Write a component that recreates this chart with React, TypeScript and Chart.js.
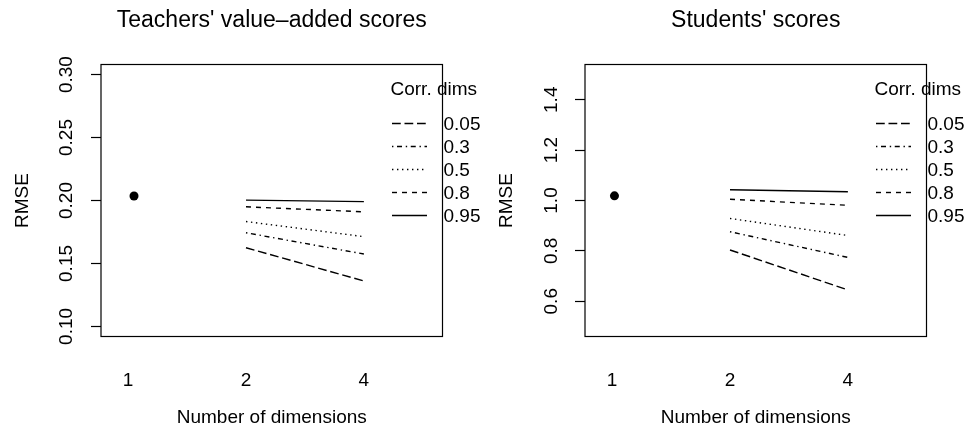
import React, { useEffect, useRef } from "react";
import { Chart, registerables } from "chart.js";

Chart.register(...registerables);

// Number of dimensions on the x axis (plotted at evenly spaced positions)
const dimensionLabels = ["1", "2", "4"];
const dimensionPositions = [1, 2, 3];

// Correlation between dimensions (one line per value)
const corrDims = ["0.05", "0.3", "0.5", "0.8", "0.95"];

// Teachers' value-added scores: RMSE
const teacherOneDimX = 1.05;
const teacherOneDim = 0.2036;
const teacherTwoDims = [0.1625, 0.1744, 0.1833, 0.195, 0.2003];
const teacherFourDims = [0.1361, 0.1575, 0.1713, 0.191, 0.1991];
const teacherYLim = [0.1, 0.3];
const teacherTicks = [0.1, 0.15, 0.2, 0.25, 0.3];
const teacherTickLabels = ["0.10", "0.15", "0.20", "0.25", "0.30"];

// Students' scores: RMSE
const studentOneDimX = 1.02;
const studentOneDim = 1.0186;
const studentTwoDims = [0.8036, 0.876, 0.9287, 1.0048, 1.0424];
const studentFourDims = [0.645, 0.774, 0.861, 0.981, 1.0345];
const studentYLim = [0.5, 1.5];
const studentTicks = [0.6, 0.8, 1.0, 1.2, 1.4];
const studentTickLabels = ["0.6", "0.8", "1.0", "1.2", "1.4"];

// R-style line types: longdash, dotdash, dotted, dashed, solid
const lineDashes: number[][] = [
  [8.75, 3.75],
  [1.4, 3.6, 5, 3.75],
  [1.4, 3.6],
  [5, 5],
  [],
];

const FONT = "'Liberation Sans', Arial, Helvetica, sans-serif";
const W = 484;
const H = 429;
const LINE_W = 1.4;

type Panel = {
  title: string;
  oneX: number;
  one: number;
  two: number[];
  four: number[];
  yLim: number[];
  ticks: number[];
  tickLabels: string[];
  tickPad: number;
};

const panels: Panel[] = [
  {
    title: "Teachers' value\u2013added scores",
    oneX: teacherOneDimX,
    one: teacherOneDim,
    two: teacherTwoDims,
    four: teacherFourDims,
    yLim: teacherYLim,
    ticks: teacherTicks,
    tickLabels: teacherTickLabels,
    tickPad: 5.5,
  },
  {
    title: "Students' scores",
    oneX: studentOneDimX,
    one: studentOneDim,
    two: studentTwoDims,
    four: studentFourDims,
    yLim: studentYLim,
    ticks: studentTicks,
    tickLabels: studentTickLabels,
    tickPad: 10.5,
  },
];

// Box, titles and legend drawn in the style of base R graphics
const framePlugin = (panel: Panel) => ({
  id: "rFrame",
  afterDraw(chart: any) {
    const { ctx, chartArea } = chart;
    const { left, right, top, bottom } = chartArea;
    ctx.save();
    ctx.strokeStyle = "#000";
    ctx.fillStyle = "#000";
    ctx.lineWidth = 1.2;
    ctx.setLineDash([]);
    ctx.strokeRect(left, top, right - left, bottom - top);

    const cx = (left + right) / 2;
    ctx.textBaseline = "alphabetic";

    // main title
    ctx.font = `23px ${FONT}`;
    ctx.textAlign = "center";
    ctx.fillText(panel.title, cx, 27);

    // x axis title
    ctx.font = `19px ${FONT}`;
    ctx.fillText("Number of dimensions", cx, 423);

    // y axis title
    ctx.save();
    ctx.translate(27.5, (top + bottom) / 2);
    ctx.rotate(-Math.PI / 2);
    ctx.fillText("RMSE", 0, 0);
    ctx.restore();

    // legend
    const lx = right - 52;
    ctx.textAlign = "left";
    ctx.fillText("Corr. dims", lx, 95);
    chart.data.datasets.slice(1).forEach((ds: any, i: number) => {
      const y = 123.5 + 23 * i;
      ctx.beginPath();
      ctx.lineWidth = LINE_W;
      ctx.setLineDash(ds.borderDash || []);
      ctx.moveTo(lx + 1.5, y);
      ctx.lineTo(lx + 36.5, y);
      ctx.stroke();
      ctx.setLineDash([]);
      ctx.fillText(ds.label, lx + 53, y + 6.5);
    });
    ctx.restore();
  },
});

function buildConfig(panel: Panel): any {
  const [lo, hi] = panel.yLim;
  const ext = (hi - lo) * 0.04;
  const lineSets = corrDims.map((c, i) => ({
    label: c,
    data: [
      { x: dimensionPositions[1], y: panel.two[i] },
      { x: dimensionPositions[2], y: panel.four[i] },
    ],
    showLine: true,
    borderColor: "#000",
    borderWidth: LINE_W,
    borderDash: lineDashes[i],
    pointRadius: 0,
    fill: false,
  }));
  return {
    type: "scatter",
    data: {
      datasets: [
        {
          label: dimensionLabels[0],
          data: [{ x: panel.oneX, y: panel.one }],
          showLine: false,
          pointRadius: 4.5,
          pointBackgroundColor: "#000",
          pointBorderWidth: 0,
          backgroundColor: "#000",
        },
        ...lineSets,
      ],
    },
    options: {
      responsive: false,
      animation: false,
      devicePixelRatio: 1,
      layout: { padding: { top: 64.5, right: 41.5, left: 0, bottom: 0 } },
      plugins: {
        legend: { display: false },
        title: { display: false },
        tooltip: { enabled: false },
      },
      scales: {
        x: {
          type: "linear",
          min: 0.77,
          max: 3.667,
          afterBuildTicks: (s: any) => {
            s.ticks = dimensionPositions.map((v) => ({ value: v }));
          },
          afterFit: (s: any) => {
            s.height = H - 336.5;
          },
          ticks: {
            autoSkip: false,
            maxRotation: 0,
            padding: 25,
            color: "#000",
            font: { family: FONT, size: 19 },
            callback: (_v: any, i: number) => dimensionLabels[i],
          },
          grid: { display: false },
          border: { display: false },
        },
        y: {
          type: "linear",
          min: lo - ext,
          max: hi + ext,
          afterBuildTicks: (s: any) => {
            s.ticks = panel.ticks.map((v) => ({ value: v }));
          },
          afterFit: (s: any) => {
            s.width = 101;
          },
          ticks: {
            autoSkip: false,
            minRotation: 90,
            maxRotation: 90,
            crossAlign: "center",
            padding: panel.tickPad,
            color: "#000",
            font: { family: FONT, size: 19 },
            callback: (_v: any, i: number) => panel.tickLabels[i],
          },
          grid: {
            drawOnChartArea: false,
            drawTicks: true,
            tickLength: 10,
            tickColor: "#000",
            tickWidth: 1.2,
          },
          border: { display: false },
        },
      },
    },
    plugins: [framePlugin(panel)],
  };
}

function PanelChart({ panel }: { panel: Panel }) {
  const ref = useRef<HTMLCanvasElement | null>(null);
  useEffect(() => {
    if (!ref.current) return;
    const chart = new Chart(ref.current, buildConfig(panel));
    return () => chart.destroy();
  }, [panel]);
  return (
    <canvas
      ref={ref}
      width={W}
      height={H}
      style={{ display: "block", width: W, height: H }}
    />
  );
}

export default function App() {
  return (
    <div
      style={{
        position: "absolute",
        left: 0,
        top: 0,
        width: W * 2,
        height: H,
        display: "flex",
        background: "#fff",
      }}
    >
      {panels.map((p) => (
        <PanelChart key={p.title} panel={p} />
      ))}
    </div>
  );
}
